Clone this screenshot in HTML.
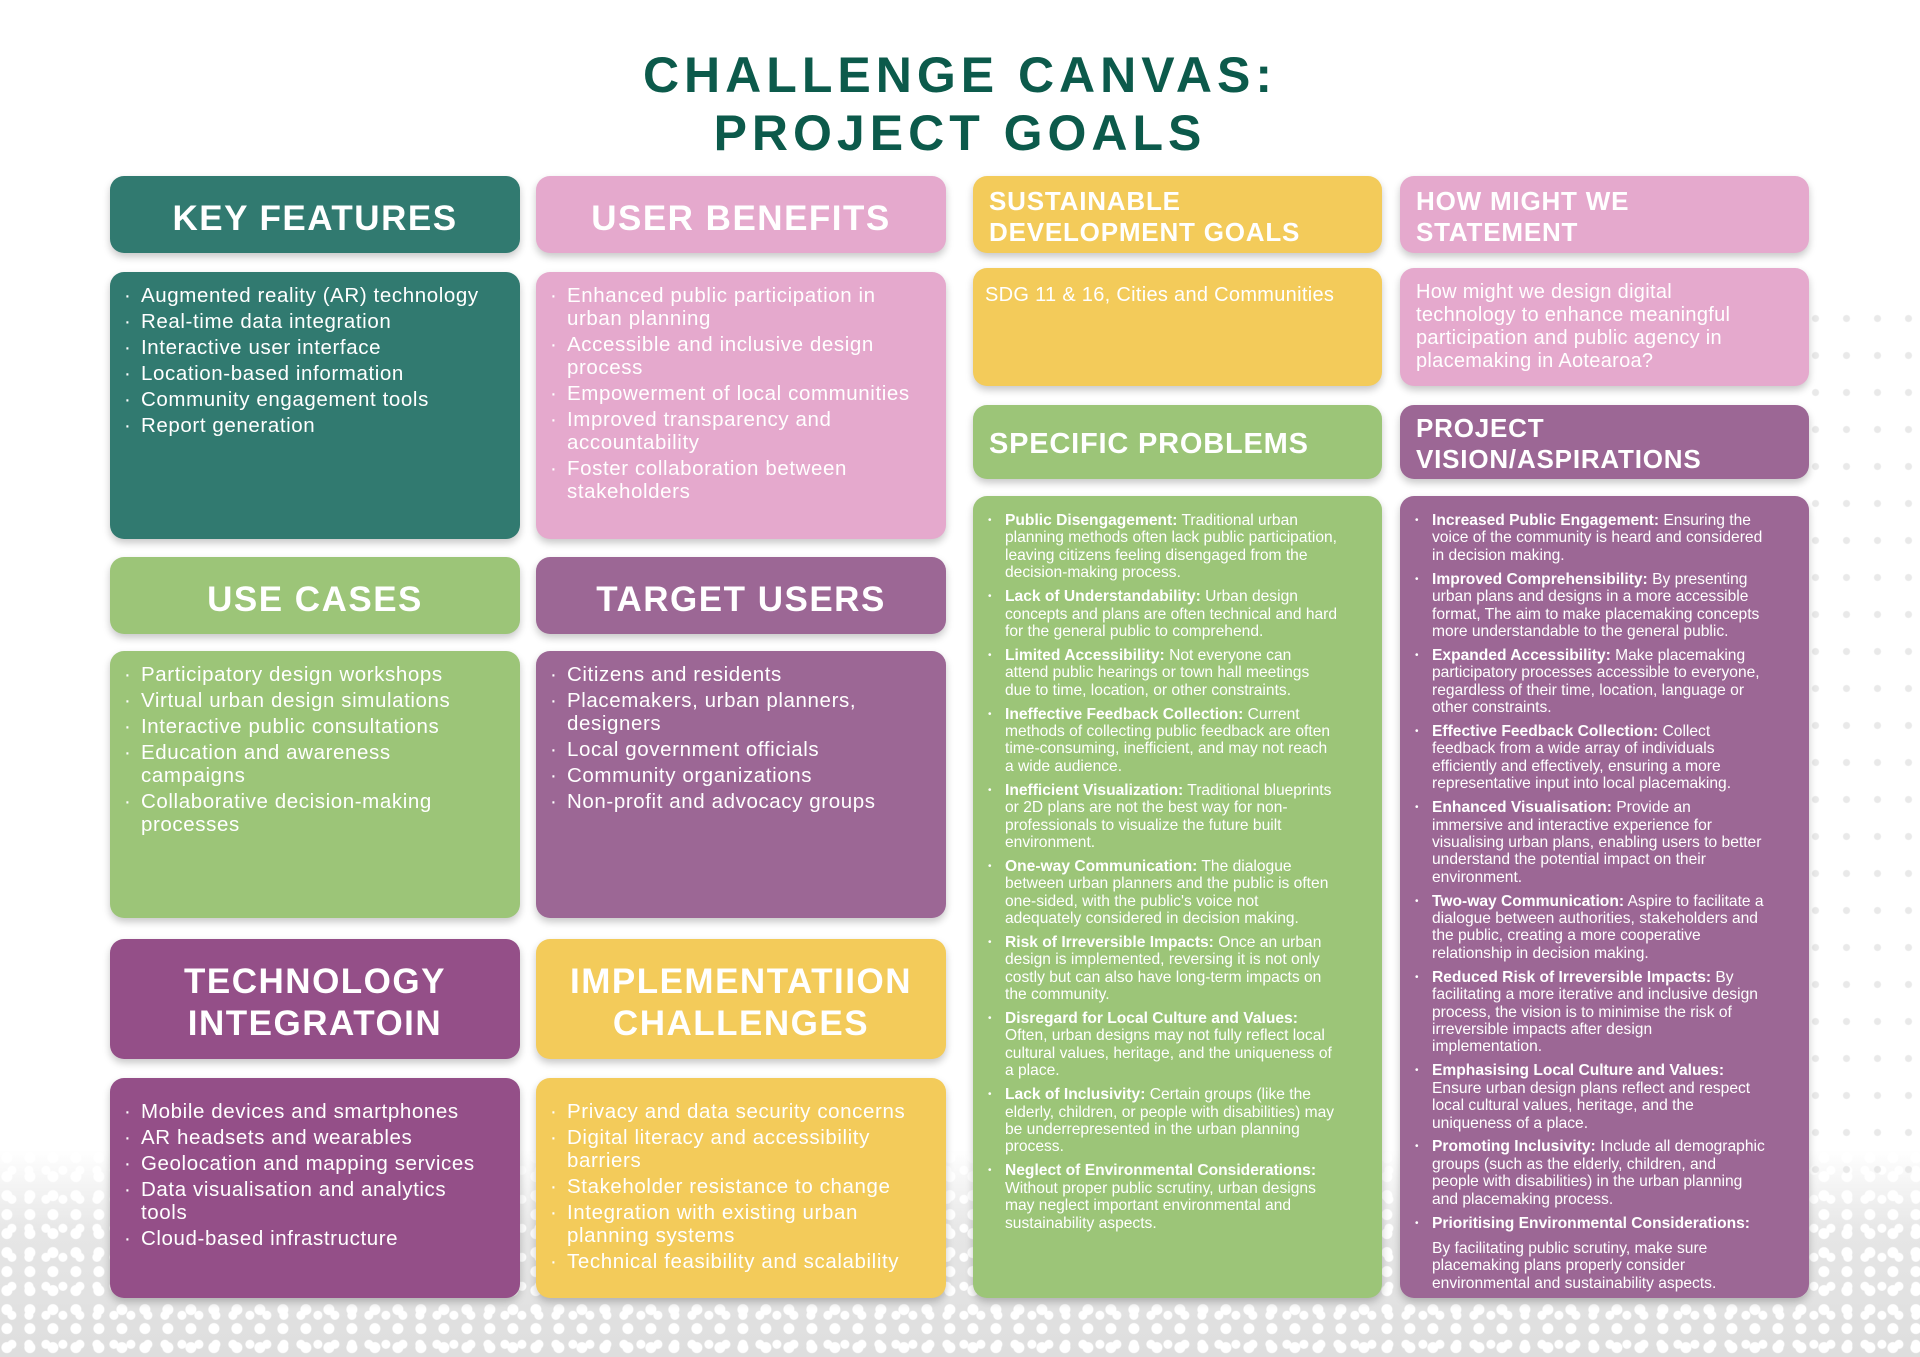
<!DOCTYPE html>
<html><head><meta charset="utf-8">
<style>
*{margin:0;padding:0;box-sizing:border-box}
body{width:1920px;height:1357px;position:relative;overflow:hidden;background:#fff;font-family:"Liberation Sans",sans-serif;color:#fff}
.bg{position:absolute;left:0;top:1150px;width:1920px;height:207px;
background:radial-gradient(circle at 30% 40%,#fff 0 5px,transparent 6px) 0 0/23px 19px,
radial-gradient(circle at 70% 70%,#fff 0 4px,transparent 5px) 0 0/17px 29px,
linear-gradient(#fff 0%,#e6e6e6 40%,#dedede 100%)}
.bg2{position:absolute;right:0;top:300px;width:120px;height:900px;background:radial-gradient(circle,#e4e4e4 0 3px,transparent 4px) 0 0/31px 37px;opacity:.8}
h1{position:absolute;left:0;width:1920px;top:46px;text-align:center;color:#0c5a4b;font-size:50px;line-height:58px;letter-spacing:5px;font-weight:bold}
.b{position:absolute;border-radius:14px;box-shadow:0 4px 8px rgba(0,0,0,.22)}
.h{display:flex;align-items:center;justify-content:center;text-align:center;font-weight:bold;font-size:35px;letter-spacing:1.5px;line-height:42px;padding-top:8px}
.hl{display:flex;align-items:center;padding-left:16px;padding-top:4px;font-weight:bold;font-size:26px;letter-spacing:.8px;line-height:31px}
ul{list-style:none}
.l li{position:relative;padding-left:31px;padding-right:24px;font-size:20.5px;line-height:23px;margin-bottom:3px;letter-spacing:.6px}
.l li:before{content:"·";position:absolute;left:14px;top:0}
.l{padding-top:12px}
.s li{position:relative;padding-left:32px;padding-right:44px;font-size:15.6px;line-height:17.4px;margin-bottom:6.5px}
.s li:before{content:"•";position:absolute;left:15px;font-size:10px}
.s{padding-top:16px}
.s b{font-weight:bold}
.teal{background:#317a70}.pink{background:#e5a9cd}.green{background:#9cc578}.purp{background:#9c6795}.purp2{background:#944f88}.yel{background:#f3cb5a}
</style></head><body>
<div class="bg"></div><div class="bg2"></div>
<h1>CHALLENGE CANVAS:<br>PROJECT GOALS</h1>

<div class="b h teal" style="left:110px;top:176px;width:410px;height:77px">KEY FEATURES</div>
<div class="b teal" style="left:110px;top:272px;width:410px;height:267px"><ul class="l">
<li>Augmented reality (AR) technology</li><li>Real-time data integration</li><li>Interactive user interface</li><li>Location-based information</li><li>Community engagement tools</li><li>Report generation</li></ul></div>

<div class="b h pink" style="left:536px;top:176px;width:410px;height:77px">USER BENEFITS</div>
<div class="b pink" style="left:536px;top:272px;width:410px;height:267px"><ul class="l">
<li>Enhanced public participation in urban planning</li><li>Accessible and inclusive design process</li><li>Empowerment of local communities</li><li>Improved transparency and accountability</li><li>Foster collaboration between stakeholders</li></ul></div>

<div class="b h green" style="left:110px;top:557px;width:410px;height:77px">USE CASES</div>
<div class="b green" style="left:110px;top:651px;width:410px;height:267px"><ul class="l">
<li>Participatory design workshops</li><li>Virtual urban design simulations</li><li>Interactive public consultations</li><li>Education and awareness campaigns</li><li>Collaborative decision-making processes</li></ul></div>

<div class="b h purp" style="left:536px;top:557px;width:410px;height:77px">TARGET USERS</div>
<div class="b purp" style="left:536px;top:651px;width:410px;height:267px"><ul class="l">
<li>Citizens and residents</li><li>Placemakers, urban planners, designers</li><li>Local government officials</li><li>Community organizations</li><li>Non-profit and advocacy groups</li></ul></div>

<div class="b h purp2" style="left:110px;top:939px;width:410px;height:120px">TECHNOLOGY<br>INTEGRATOIN</div>
<div class="b purp2" style="left:110px;top:1078px;width:410px;height:220px"><ul class="l" style="padding-top:22px">
<li>Mobile devices and smartphones</li><li>AR headsets and wearables</li><li>Geolocation and mapping services</li><li>Data visualisation and analytics tools</li><li>Cloud-based infrastructure</li></ul></div>

<div class="b h yel" style="left:536px;top:939px;width:410px;height:120px">IMPLEMENTATIION<br>CHALLENGES</div>
<div class="b yel" style="left:536px;top:1078px;width:410px;height:220px"><ul class="l" style="padding-top:22px">
<li>Privacy and data security concerns</li><li>Digital literacy and accessibility barriers</li><li>Stakeholder resistance to change</li><li>Integration with existing urban planning systems</li><li>Technical feasibility and scalability</li></ul></div>

<div class="b hl yel" style="left:973px;top:176px;width:409px;height:77px">SUSTAINABLE<br>DEVELOPMENT GOALS</div>
<div class="b yel" style="left:973px;top:268px;width:409px;height:118px;padding:16px 12px;font-size:20px;line-height:23px;letter-spacing:.3px">SDG 11 &amp; 16, Cities and Communities</div>

<div class="b hl pink" style="left:1400px;top:176px;width:409px;height:77px">HOW MIGHT WE<br>STATEMENT</div>
<div class="b pink" style="left:1400px;top:268px;width:409px;height:118px;padding:13px 40px 12px 16px;font-size:20px;line-height:23px;letter-spacing:.3px">How might we design digital technology to enhance meaningful participation and public agency in placemaking in Aotearoa?</div>

<div class="b hl green" style="left:973px;top:405px;width:409px;height:74px;font-size:29px">SPECIFIC PROBLEMS</div>
<div class="b green" style="left:973px;top:496px;width:409px;height:802px"><ul class="s">
<li><b>Public Disengagement:</b> Traditional urban planning methods often lack public participation, leaving citizens feeling disengaged from the decision-making process.</li>
<li><b>Lack of Understandability:</b> Urban design concepts and plans are often technical and hard for the general public to comprehend.</li>
<li><b>Limited Accessibility:</b> Not everyone can attend public hearings or town hall meetings due to time, location, or other constraints.</li>
<li><b>Ineffective Feedback Collection:</b> Current methods of collecting public feedback are often time-consuming, inefficient, and may not reach a wide audience.</li>
<li><b>Inefficient Visualization:</b> Traditional blueprints or 2D plans are not the best way for non-professionals to visualize the future built environment.</li>
<li><b>One-way Communication:</b> The dialogue between urban planners and the public is often one-sided, with the public's voice not adequately considered in decision making.</li>
<li><b>Risk of Irreversible Impacts:</b> Once an urban design is implemented, reversing it is not only costly but can also have long-term impacts on the community.</li>
<li><b>Disregard for Local Culture and Values:</b> Often, urban designs may not fully reflect local cultural values, heritage, and the uniqueness of a place.</li>
<li><b>Lack of Inclusivity:</b> Certain groups (like the elderly, children, or people with disabilities) may be underrepresented in the urban planning process.</li>
<li><b>Neglect of Environmental Considerations:</b> Without proper public scrutiny, urban designs may neglect important environmental and sustainability aspects.</li>
</ul></div>

<div class="b hl purp" style="left:1400px;top:405px;width:409px;height:74px">PROJECT<br>VISION/ASPIRATIONS</div>
<div class="b purp" style="left:1400px;top:496px;width:409px;height:802px"><ul class="s">
<li><b>Increased Public Engagement:</b> Ensuring the voice of the community is heard and considered in decision making.</li>
<li><b>Improved Comprehensibility:</b> By presenting urban plans and designs in a more accessible format, The aim to make placemaking concepts more understandable to the general public.</li>
<li><b>Expanded Accessibility:</b> Make placemaking participatory processes accessible to everyone, regardless of their time, location, language or other constraints.</li>
<li><b>Effective Feedback Collection:</b> Collect feedback from a wide array of individuals efficiently and effectively, ensuring a more representative input into local placemaking.</li>
<li><b>Enhanced Visualisation:</b> Provide an immersive and interactive experience for visualising urban plans, enabling users to better understand the potential impact on their environment.</li>
<li><b>Two-way Communication:</b> Aspire to facilitate a dialogue between authorities, stakeholders and the public, creating a more cooperative relationship in decision making.</li>
<li><b>Reduced Risk of Irreversible Impacts:</b> By facilitating a more iterative and inclusive design process, the vision is to minimise the risk of irreversible impacts after design implementation.</li>
<li><b>Emphasising Local Culture and Values:</b> Ensure urban design plans reflect and respect local cultural values, heritage, and the uniqueness of a place.</li>
<li><b>Promoting Inclusivity:</b> Include all demographic groups (such as the elderly, children, and people with disabilities) in the urban planning and placemaking process.</li>
<li><b>Prioritising Environmental Considerations:</b><br><span style="display:block;margin-top:8px">By facilitating public scrutiny, make sure placemaking plans properly consider environmental and sustainability aspects.</span></li>
</ul></div>
</body></html>
